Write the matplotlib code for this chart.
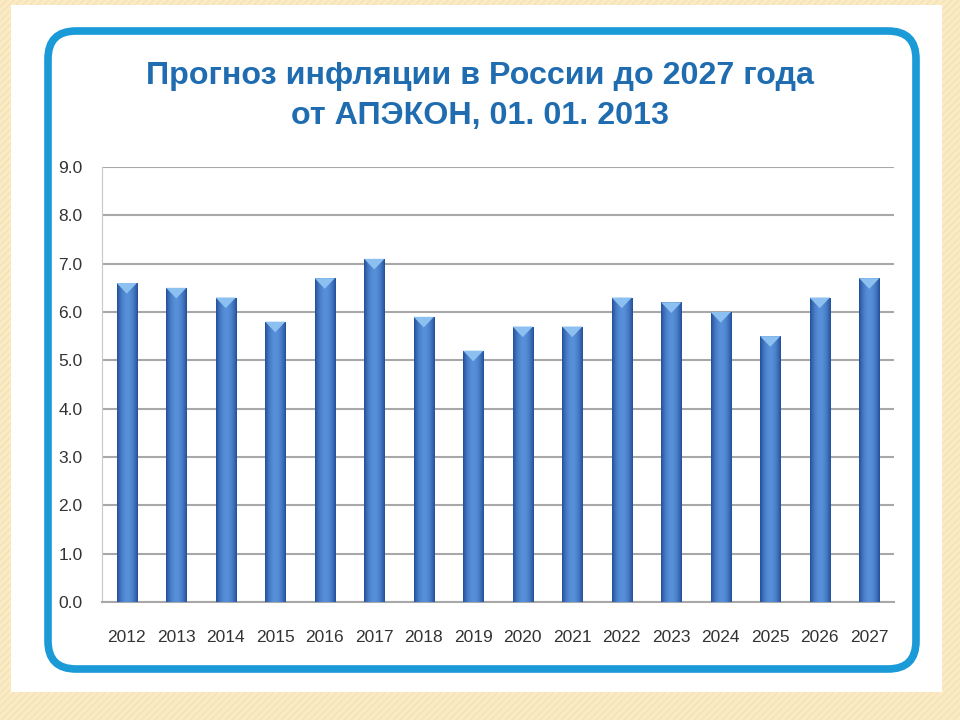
import matplotlib.pyplot as plt
from matplotlib.patches import Rectangle, FancyBboxPatch
import numpy as np

# ---- data ----
years = ['2012', '2013', '2014', '2015', '2016', '2017', '2018', '2019',
         '2020', '2021', '2022', '2023', '2024', '2025', '2026', '2027']
inflation = [6.6, 6.5, 6.3, 5.8, 6.7, 7.1, 5.9, 5.2,
             5.7, 5.7, 6.3, 6.2, 6.0, 5.5, 6.3, 6.7]
y_ticks = [0, 1, 2, 3, 4, 5, 6, 7, 8, 9]
title_lines = ['Прогноз инфляции в России до 2027 года', 'от АПЭКОН, 01. 01. 2013']

# ---- style ----
BG_C, FRAME_C, TITLE_C = '#fbebc4', '#1b9ad8', '#1f6db0'
GRID_C, TEXT_C = '#a8a8a8', '#333333'
FONT = ['Liberation Sans Narrow', 'Liberation Sans', 'DejaVu Sans']

fig = plt.figure(figsize=(9.6, 7.2), dpi=100)
fig.patch.set_facecolor(BG_C)

# faint diagonal stripes in the beige border
bg = fig.add_axes([0, 0, 1, 1], zorder=-5)
bg.set_xlim(0, 960); bg.set_ylim(720, 0); bg.axis('off')
for s in np.arange(-720, 960, 7):
    bg.plot([s, s + 720], [720, 0], color='#efd9a6', lw=0.8, alpha=0.6, zorder=1)
bg.add_patch(Rectangle((11, 5), 931, 687, facecolor='white', edgecolor='none', zorder=3))
bg.add_patch(FancyBboxPatch((48, 31), 868, 638, boxstyle='round,pad=0,rounding_size=28',
                            facecolor='white', edgecolor=FRAME_C, linewidth=5.5, zorder=4))

for i, line in enumerate(title_lines):
    bg.text(480, 76 + i * 40, line, ha='center', va='center', color=TITLE_C,
            fontsize=23.2, fontweight='bold', family=FONT, zorder=5)

# ---- chart ----
ax = fig.add_axes([102 / 960, 1 - 602 / 720, 792 / 960, 435 / 720])
ax.set_xlim(-0.5, len(years) - 0.5)
ax.set_ylim(0, 9)
x = np.arange(len(years))
bars = ax.bar(x, inflation, width=0.41, color='#3a74c4', zorder=3)

# cylinder-like shading on each bar
grad = np.linspace(-1, 1, 64)
shade = np.zeros((1, 64, 3))
light = np.array([0.34, 0.56, 0.85]); dark = np.array([0.14, 0.31, 0.60])
w = 1 - grad ** 2
for k in range(3):
    shade[0, :, k] = dark[k] + (light[k] - dark[k]) * w
for b in bars:
    x0, w0, h0 = b.get_x(), b.get_width(), b.get_height()
    im = ax.imshow(shade, extent=[x0, x0 + w0, 0, h0], aspect='auto', zorder=4)
    im.set_clip_path(b)
    # lighter cap at the top
    ax.fill([x0, x0 + w0, x0 + w0 / 2], [h0, h0, h0 - 0.22],
            color='#8cc0f0', zorder=5, lw=0)

ax.set_yticks(y_ticks)
ax.set_yticklabels([f'{v:.1f}' for v in y_ticks])
ax.set_xticks(x)
ax.set_xticklabels(years)
ax.yaxis.grid(True, color=GRID_C, linewidth=1.5, zorder=0)
ax.set_axisbelow(True)
for side in ['top', 'right']:
    ax.spines[side].set_visible(False)
ax.spines['left'].set_color('#c8c8c8')
ax.spines['bottom'].set_color(GRID_C)
ax.spines['bottom'].set_linewidth(1.5)
ax.tick_params(length=0, labelsize=12.5, colors=TEXT_C)
ax.tick_params(axis='x', pad=20)
ax.tick_params(axis='y', pad=14)
for lab in ax.get_xticklabels() + ax.get_yticklabels():
    lab.set_family(FONT)
ax.set_facecolor('white')

fig.savefig('out.png', dpi=100, facecolor=fig.get_facecolor())
